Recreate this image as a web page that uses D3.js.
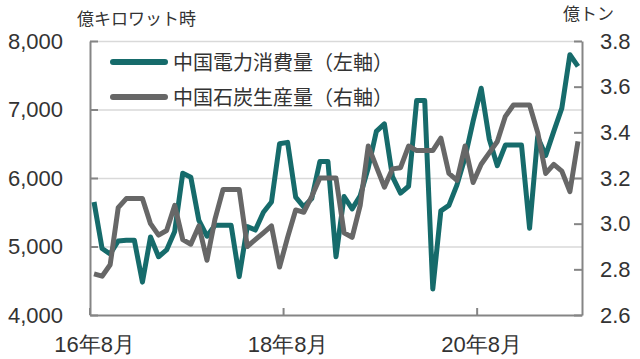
<!DOCTYPE html>
<html>
<head>
<meta charset="utf-8">
<script src="https://cdn.jsdelivr.net/npm/d3@7"></script>
<style>
  body { margin: 0; background: #fff; }
  svg { display: block; font-family: "Noto Sans CJK JP", "Noto Sans", sans-serif; }
</style>
</head>
<body>
<svg width="640" height="359"></svg>
<script>
// months, Aug 2016 - Aug 2021
const months = [
  "2016-08","2016-09","2016-10","2016-11","2016-12",
  "2017-01","2017-02","2017-03","2017-04","2017-05","2017-06","2017-07","2017-08","2017-09","2017-10","2017-11","2017-12",
  "2018-01","2018-02","2018-03","2018-04","2018-05","2018-06","2018-07","2018-08","2018-09","2018-10","2018-11","2018-12",
  "2019-01","2019-02","2019-03","2019-04","2019-05","2019-06","2019-07","2019-08","2019-09","2019-10","2019-11","2019-12",
  "2020-01","2020-02","2020-03","2020-04","2020-05","2020-06","2020-07","2020-08","2020-09","2020-10","2020-11","2020-12",
  "2021-01","2021-02","2021-03","2021-04","2021-05","2021-06","2021-07","2021-08"
]

// 中国電力消費量 (億キロワット時, left axis)
const power = [
  5650, 4970, 4890, 5080, 5090,
  5090, 4480, 5140, 4850, 4950, 5220, 6070, 6010, 5380, 5150, 5310, 5310,
  5310, 4560, 5290, 5240, 5500, 5650, 6500, 6520, 5720, 5580, 5700, 6240,
  6240, 4850, 5730, 5550, 5740, 6150, 6680, 6790, 6020, 5780, 5880, 7130,
  7130, 4380, 5520, 5600, 5900, 6300, 6830, 7310, 6570, 6180, 6480, 6480,
  6480, 5265, 6600, 6330, 6680, 7020, 7800, 7630
]

// 中国石炭生産量 (億トン, right axis)
const coal = [
  2.78, 2.77, 2.82, 3.07, 3.11,
  3.11, 3.11, 3.00, 2.95, 2.97, 3.08, 2.93, 2.91, 2.99, 2.84, 3.02, 3.15,
  3.15, 3.15, 2.90, 2.93, 2.96, 2.99, 2.81, 2.94, 3.06, 3.05, 3.12, 3.20,
  3.20, 3.20, 2.96, 2.94, 3.08, 3.34, 3.25, 3.16, 3.24, 3.245, 3.34, 3.32,
  3.32, 3.32, 3.375, 3.22, 3.19, 3.34, 3.18, 3.26, 3.31, 3.36, 3.47, 3.52,
  3.52, 3.52, 3.40, 3.22, 3.26, 3.23, 3.14, 3.36
]

const xTicks = ["2016-08", "2018-08", "2020-08"]
const xTickLabels = ["16年8月", "18年8月", "20年8月"]
const leftTicks = [4000, 5000, 6000, 7000, 8000]
const rightTicks = [2.6, 2.8, 3.0, 3.2, 3.4, 3.6, 3.8]

const seriesNames = ["中国電力消費量（左軸）", "中国石炭生産量（右軸）"]
const colors = ["#166b6b", "#676767"]

const svg = d3.select("svg")
const margin = { top: 41, right: 58, bottom: 44, left: 90 }
const width = 640 - margin.left - margin.right
const height = 359 - margin.top - margin.bottom
const g = svg.append("g").attr("transform", `translate(${margin.left},${margin.top})`)

const x = d3.scalePoint().domain(months).range([0, width]).padding(0.5)
const yL = d3.scaleLinear().domain([4000, 8000]).range([height, 0])
const yR = d3.scaleLinear().domain([2.6, 3.8]).range([height, 0])

const axisColor = "#858585"
const textColor = "#333333"

// gridlines
g.append("g")
  .call(d3.axisLeft(yL).tickValues(leftTicks.slice(1)).tickSize(-width).tickFormat(""))
  .call((s) => s.select(".domain").remove())
  .call((s) => s.selectAll("line").attr("stroke", "#d9d9d9").attr("stroke-width", 1.5))

// left axis
g.append("g")
  .call(d3.axisLeft(yL).tickValues(leftTicks).tickSizeInner(-8).tickSizeOuter(0).tickPadding(27).tickFormat(d3.format(",")))
  .call((s) => s.select(".domain").attr("stroke", axisColor).attr("stroke-width", 2))
  .call((s) => s.selectAll("line").attr("stroke", axisColor).attr("stroke-width", 2))
  .call((s) => s.selectAll("text").attr("fill", textColor).style("font-size", "22px"))

// right axis
g.append("g")
  .attr("transform", `translate(${width},0)`)
  .call(d3.axisRight(yR).tickValues(rightTicks).tickSizeInner(-8).tickSizeOuter(0).tickPadding(18).tickFormat(d3.format(".1f")))
  .call((s) => s.select(".domain").attr("stroke", axisColor).attr("stroke-width", 2))
  .call((s) => s.selectAll("line").attr("stroke", axisColor).attr("stroke-width", 2))
  .call((s) => s.selectAll("text").attr("fill", textColor).style("font-size", "22px"))

// bottom axis, labels centred on the month, ticks on month boundaries
g.append("g")
  .attr("transform", `translate(0,${height})`)
  .call(d3.axisBottom(x).tickValues(xTicks).tickSize(0).tickFormat((d, i) => xTickLabels[i]))
  .call((s) => s.select(".domain").attr("stroke", axisColor).attr("stroke-width", 2))
  .call((s) => s.selectAll("text").attr("fill", textColor).style("font-size", "22px").attr("y", 37).attr("dy", 0))

g.append("g")
  .selectAll("line")
  .data(xTicks)
  .join("line")
  .attr("x1", (d) => x(d) - x.step() / 2)
  .attr("x2", (d) => x(d) - x.step() / 2)
  .attr("y1", height)
  .attr("y2", height - 7)
  .attr("stroke", axisColor)
  .attr("stroke-width", 2)

// lines
const linePower = d3.line().x((d, i) => x(months[i])).y((d) => yL(d))
const lineCoal = d3.line().x((d, i) => x(months[i])).y((d) => yR(d))

g.append("path")
  .datum(power)
  .attr("fill", "none")
  .attr("stroke", colors[0])
  .attr("stroke-width", 5)
  .attr("stroke-linejoin", "round")
  .attr("d", linePower)

g.append("path")
  .datum(coal)
  .attr("fill", "none")
  .attr("stroke", colors[1])
  .attr("stroke-width", 5)
  .attr("stroke-linejoin", "round")
  .attr("d", lineCoal)

// axis titles
svg.append("text").attr("x", 77).attr("y", 25).attr("fill", textColor).style("font-size", "17px").text("億キロワット時")
svg.append("text").attr("x", 563).attr("y", 20).attr("fill", textColor).style("font-size", "17px").text("億トン")

// legend
const legend = svg.append("g").attr("transform", "translate(113,62)")
seriesNames.forEach((name, i) => {
  const row = legend.append("g").attr("transform", `translate(0,${i * 35})`)
  row.append("line")
    .attr("x1", 0).attr("x2", 52)
    .attr("stroke", colors[i]).attr("stroke-width", 6).attr("stroke-linecap", "round")
  row.append("text")
    .attr("x", 60).attr("y", 8)
    .attr("fill", textColor)
    .style("font-size", "20px")
    .text(name)
})
</script>
</body>
</html>
